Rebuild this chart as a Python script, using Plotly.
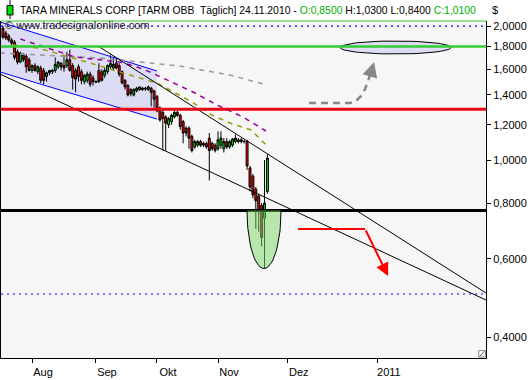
import math
import pandas as pd
import plotly.graph_objects as go

# ---------------- data ----------------
holidays = ["2010-09-06"]
dates = [d for d in pd.bdate_range("2010-07-19", "2010-11-24")
         if d.strftime("%Y-%m-%d") not in holidays]

open_ = [1.98, 1.93, 1.90, 1.86, 1.84, 1.75, 1.66, 1.72, 1.71, 1.68,
         1.59, 1.63, 1.58, 1.61, 1.59, 1.54, 1.57, 1.58, 1.59, 1.62,
         1.65, 1.63, 1.63, 1.68, 1.63, 1.59, 1.62, 1.58, 1.50, 1.51,
         1.56, 1.53, 1.495, 1.59, 1.58, 1.55, 1.58, 1.62, 1.61, 1.65,
         1.63, 1.58, 1.51, 1.47, 1.44, 1.40, 1.43, 1.44, 1.45, 1.45,
         1.44, 1.45, 1.43, 1.39, 1.31, 1.28, 1.25, 1.20, 1.22, 1.25,
         1.28, 1.26, 1.22, 1.18, 1.18, 1.13, 1.07, 1.08, 1.10, 1.08,
         1.09, 1.12, 1.09, 1.08, 1.06, 1.08, 1.06, 1.10, 1.07, 1.08,
         1.10, 1.10, 1.11, 1.10, 1.10, 0.96, 0.92, 0.86, 0.83, 0.79,
         0.74, 0.85]
high = [2.00, 1.95, 1.92, 1.88, 1.86, 1.77, 1.75, 1.74, 1.73, 1.70,
        1.64, 1.65, 1.63, 1.63, 1.61, 1.58, 1.59, 1.60, 1.70, 1.67,
        1.66, 1.72, 1.75, 1.77, 1.65, 1.61, 1.64, 1.60, 1.56, 1.58,
        1.58, 1.55, 1.51, 1.65, 1.60, 1.61, 1.64, 1.72, 1.70, 1.69,
        1.65, 1.59, 1.52, 1.48, 1.45, 1.45, 1.46, 1.46, 1.46, 1.46,
        1.47, 1.46, 1.44, 1.40, 1.32, 1.30, 1.26, 1.25, 1.27, 1.30,
        1.29, 1.27, 1.23, 1.19, 1.19, 1.14, 1.11, 1.11, 1.11, 1.10,
        1.10, 1.15, 1.10, 1.09, 1.16, 1.16, 1.12, 1.12, 1.11, 1.12,
        1.14, 1.12, 1.12, 1.11, 1.11, 0.97, 0.93, 0.87, 0.84, 0.80,
        1.00, 1.03]
low = [1.87, 1.86, 1.84, 1.81, 1.68, 1.64, 1.65, 1.66, 1.57, 1.58,
       1.57, 1.58, 1.56, 1.49, 1.48, 1.50, 1.55, 1.56, 1.57, 1.60,
       1.59, 1.58, 1.61, 1.58, 1.44, 1.42, 1.50, 1.48, 1.48, 1.49,
       1.46, 1.47, 1.49, 1.49, 1.50, 1.53, 1.56, 1.60, 1.59, 1.60,
       1.54, 1.48, 1.44, 1.39, 1.39, 1.39, 1.42, 1.43, 1.43, 1.43,
       1.43, 1.32, 1.31, 1.28, 1.22, 1.05, 1.05, 1.18, 1.20, 1.24,
       1.25, 1.17, 1.09, 1.13, 1.06, 1.04, 1.06, 1.07, 1.07, 1.07,
       1.06, 0.90, 1.05, 1.04, 1.05, 1.06, 1.04, 1.06, 1.06, 1.07,
       1.09, 1.09, 1.09, 1.09, 0.95, 0.85, 0.82, 0.70, 0.69, 0.64,
       0.57, 0.84]
close = [1.89, 1.88, 1.86, 1.83, 1.70, 1.66, 1.74, 1.68, 1.62, 1.59,
         1.63, 1.59, 1.62, 1.51, 1.51, 1.57, 1.59, 1.59, 1.64, 1.66,
         1.62, 1.61, 1.68, 1.59, 1.53, 1.52, 1.54, 1.51, 1.55, 1.56,
         1.48, 1.50, 1.50, 1.50, 1.51, 1.59, 1.63, 1.65, 1.64, 1.61,
         1.56, 1.49, 1.46, 1.40, 1.41, 1.44, 1.45, 1.46, 1.44, 1.445,
         1.46, 1.42, 1.37, 1.29, 1.23, 1.24, 1.21, 1.24, 1.26, 1.28,
         1.26, 1.19, 1.15, 1.15, 1.12, 1.05, 1.10, 1.10, 1.08, 1.09,
         1.07, 1.05, 1.06, 1.05, 1.11, 1.12, 1.10, 1.07, 1.10, 1.115,
         1.12, 1.11, 1.10, 1.10, 0.97, 0.87, 0.835, 0.81, 0.77, 0.67,
         0.80, 1.01]

month_labels = ["Aug", "Sep", "Okt", "Nov", "Dez", "2011"]
month_starts = ["2010-08-01", "2010-09-01", "2010-10-01",
                "2010-11-01", "2010-12-01", "2011-01-01"]
y_ticks = [0.4, 0.6, 0.8, 1.0, 1.2, 1.4, 1.6, 1.8, 2.0]

# moving averages (bar position, price)
ma_gray_x = [-1.0, 33.4, 47.2, 60.9, 78.1, 91.0]
ma_gray_y = [1.740, 1.695, 1.660, 1.626, 1.552, 1.474]
ma_purple_x = [6.0, 10.3, 20.3, 24.8, 40.3, 46.1, 50.6, 58.5, 65.4, 73.7, 82.6, 90.5]
ma_purple_y = [1.870, 1.832, 1.740, 1.704, 1.660, 1.618, 1.577, 1.489, 1.422, 1.329, 1.249, 1.162]
ma_olive_x = [3.5, 12.1, 30.0, 39.6, 43.7, 53.0, 59.2, 65.1, 71.9, 78.1, 85.4, 90.9]
ma_olive_y = [1.813, 1.785, 1.652, 1.585, 1.552, 1.489, 1.414, 1.350, 1.262, 1.211, 1.168, 1.075]

# drawn analysis objects (bar position, price)
trend_upper_x = [32.7, 166.2]
trend_upper_y = [1.804, 0.5025]
trend_lower_x = [-1.0, 166.2]
trend_lower_y = [1.560, 0.4846]
chan_x = [-1.0, 53.0]
chan_up_y = [2.042, 1.585]
chan_lo_y = [1.577, 1.236]
level_green = 1.80
level_red = 1.30
level_black = 0.77
level_dots = [2.0, 0.5]

# ---------------- helpers ----------------
n = len(dates)
xpos = list(range(n))
last_date = dates[-1]


def pos_of(ds):
    d = pd.Timestamp(ds)
    if d <= last_date:
        for i, dd in enumerate(dates):
            if dd >= d:
                return i
    return (n - 1) + (d - last_date).days


tick_pos = [pos_of(s) for s in month_starts]

XR = [-0.67, 166.2]
YR = [-0.4449, 0.3124]

fig = go.Figure()

# channel lines
for yy in (chan_up_y, chan_lo_y):
    fig.add_trace(go.Scatter(x=chan_x, y=yy, mode="lines",
                             line=dict(color="#0000ff", width=1), hoverinfo="skip"))

# top-right target ellipse
ecx, erx, ecy, ery = 135.1, 19.1, 1.790, 0.0146
ts = [2 * math.pi * k / 60 for k in range(61)]
fig.add_trace(go.Scatter(x=[ecx + erx * math.cos(t) for t in ts],
                         y=[10 ** (math.log10(ecy) + ery * math.sin(t)) for t in ts],
                         fill="toself", fillcolor="#dcdcf4", mode="lines",
                         line=dict(color="black", width=1), hoverinfo="skip"))

# dotted levels
for lv in level_dots:
    fig.add_trace(go.Scatter(x=XR, y=[lv, lv], mode="lines",
                             line=dict(color="#0000ff", width=1.2, dash="2px,4px"),
                             hoverinfo="skip"))

# moving averages
for mx, my, col in ((ma_gray_x, ma_gray_y, "#999999"),
                    (ma_purple_x, ma_purple_y, "#990099"),
                    (ma_olive_x, ma_olive_y, "#999900")):
    fig.add_trace(go.Scatter(x=mx, y=my, mode="lines",
                             line=dict(color=col, width=1.5, dash="5px,5px"),
                             hoverinfo="skip"))

# trend lines
for tx, ty in ((trend_upper_x, trend_upper_y), (trend_lower_x, trend_lower_y)):
    fig.add_trace(go.Scatter(x=tx, y=ty, mode="lines",
                             line=dict(color="black", width=1), hoverinfo="skip"))

# candles
fig.add_trace(go.Candlestick(
    x=xpos, open=open_, high=high, low=low, close=close,
    increasing=dict(fillcolor="#00e000", line=dict(color="black", width=1)),
    decreasing=dict(fillcolor="#ff0000", line=dict(color="black", width=1)),
    whiskerwidth=0, hoverinfo="skip"))

# horizontal levels
fig.add_trace(go.Scatter(x=XR, y=[level_green] * 2, mode="lines",
                         line=dict(color="#33cc33", width=2.5), hoverinfo="skip"))
fig.add_trace(go.Scatter(x=XR, y=[level_red] * 2, mode="lines",
                         line=dict(color="#ff0000", width=3), hoverinfo="skip"))
fig.add_trace(go.Scatter(x=XR, y=[level_red] * 2, mode="lines",
                         line=dict(color="#3333ff", width=1, dash="1px,3px"), hoverinfo="skip"))
fig.add_trace(go.Scatter(x=XR, y=[level_black] * 2, mode="lines",
                         line=dict(color="black", width=3), hoverinfo="skip"))

# green bowl under the black level
bcx, brx, bdepth = 89.83, 5.85, 0.1303
tb = [math.pi * k / 40 for k in range(41)]
fig.add_trace(go.Scatter(x=[bcx + brx * math.cos(t) for t in tb],
                         y=[10 ** (math.log10(level_black) - bdepth * math.sin(t)) for t in tb],
                         fill="toself", fillcolor="rgba(120,215,100,0.5)", mode="lines",
                         line=dict(color="black", width=1), hoverinfo="skip"))

# gray dashed arrow
ga_x = [105.3, 119.4, 121.5, 123.2, 124.6, 125.6, 126.7]
ga_y = [1.343, 1.343, 1.357, 1.393, 1.444, 1.505, 1.577]
fig.add_trace(go.Scatter(x=ga_x, y=ga_y, mode="lines",
                         line=dict(color="#888888", width=2.5, dash="7px,5px"),
                         hoverinfo="skip"))
# red arrow
ra_x = [101.5, 124.6]
ra_y = [0.700, 0.700]
fig.add_trace(go.Scatter(x=ra_x, y=ra_y, mode="lines",
                         line=dict(color="#ff0000", width=2), hoverinfo="skip"))

annotations = [
    dict(x=127.7, y=math.log10(1.660), ax=126.7, ay=math.log10(1.577),
         xref="x", yref="y", axref="x", ayref="y", showarrow=True,
         arrowhead=2, arrowsize=1.2, arrowwidth=2.5, arrowcolor="#888888", text=""),
    dict(x=132.5, y=math.log10(0.5487), ax=124.6, ay=math.log10(0.700),
         xref="x", yref="y", axref="x", ayref="y", showarrow=True,
         arrowhead=2, arrowsize=1.3, arrowwidth=2, arrowcolor="#ff0000", text=""),
    dict(x=0.035, y=1.0326, xref="paper", yref="paper", xanchor="left", yanchor="middle",
         showarrow=False, font=dict(size=10.4, color="black"),
         text="TARA MINERALS CORP [TARM OBB  Täglich] 24.11.2010 - "
              "<span style='color:#00b000'>O:0,8500</span> H:1,0300 L:0,8400 "
              "<span style='color:#00b000'>C:1,0100</span>"),
    dict(x=1.0, y=1.0326, xref="paper", yref="paper", xanchor="left", yanchor="middle",
         xshift=4, showarrow=False, font=dict(size=11, color="black"), text="$"),
    dict(x=0.004, y=0.988, xref="paper", yref="paper", xanchor="left", yanchor="middle",
         showarrow=False, font=dict(size=11, color="#222222"),
         text="© www.tradesignalonline.com"),
]

chan_path = "M {} {} L {} {} L {} {} L {} {} Z".format(
    chan_x[0], chan_up_y[0], chan_x[1], chan_up_y[1],
    chan_x[1], chan_lo_y[1], chan_x[0], chan_lo_y[0])

shapes = [
    dict(type="path", xref="x", yref="y", path=chan_path, layer="below",
         fillcolor="#dcdcf4", line=dict(width=0)),
    dict(type="line", xref="paper", yref="paper", x0=0, x1=1, y0=1, y1=1,
         line=dict(color="#33cc33", width=1)),
    dict(type="line", xref="paper", yref="paper", x0=0.0186, x1=0.0186, y0=1.006, y1=1.062,
         line=dict(color="black", width=1)),
    dict(type="rect", xref="paper", yref="paper", x0=0.0124, x1=0.0247, y0=1.018, y1=1.046,
         fillcolor="#00e000", line=dict(color="black", width=1)),
    dict(type="rect", xref="paper", yref="paper", x0=0.985, x1=0.999, y0=0.003, y1=0.022,
         fillcolor="white", line=dict(color="#888888", width=1)),
    dict(type="line", xref="paper", yref="paper", x0=0.987, x1=0.997, y0=0.005, y1=0.020,
         line=dict(color="#555555", width=1)),
]

fig.update_layout(
    width=532, height=380,
    margin=dict(l=1, r=46, t=21, b=22, pad=0),
    paper_bgcolor="white", plot_bgcolor="#f6f6f6",
    showlegend=False, separators=",.", boxgap=0.05,
    font=dict(family="Liberation Sans, Arial, sans-serif", size=11, color="black"),
    annotations=annotations, shapes=shapes,
    xaxis=dict(range=XR, showgrid=False, zeroline=False, showline=True,
               linecolor="black", linewidth=1, mirror=False,
               ticks="outside", ticklen=4, tickcolor="black",
               tickvals=tick_pos, ticktext=month_labels, ticklabelshift=11,
               rangeslider=dict(visible=False), fixedrange=True),
    yaxis=dict(type="log", range=YR, side="right", showgrid=False, zeroline=False,
               showline=True, linecolor="black", linewidth=1, mirror=True,
               ticks="outside", ticklen=4, tickcolor="black",
               tickvals=y_ticks, tickformat=".4f", fixedrange=True),
)

fig.write_html("out.html", config={"displayModeBar": False})
